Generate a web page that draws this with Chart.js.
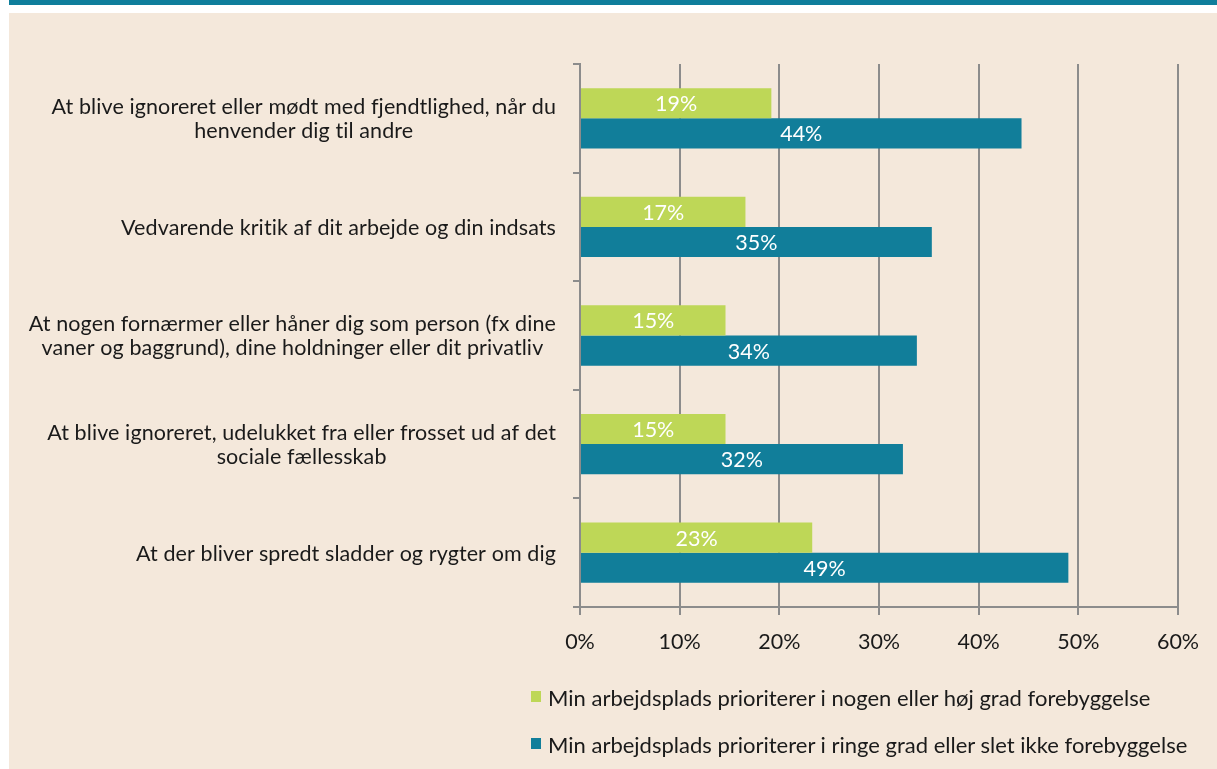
<!DOCTYPE html>
<html>
<head>
<meta charset="utf-8">
<script src="https://cdn.jsdelivr.net/npm/chart.js@4"></script>
<style>
    html, body { margin: 0; padding: 0; background: #ffffff; width: 1217px; height: 769px; overflow: hidden; }
    .topbar { position: absolute; left: 9px; top: 0; width: 1208px; height: 5px; background: #0f7e9b; }
    .panel { position: absolute; left: 9px; top: 13px; width: 1208px; height: 756px; background: #f4e8db; }
    #chart { position: absolute; left: 0; top: 0; }
    .legend { position: absolute; left: 522px; top: 661px; font-family: Lato, 'Open Sans', sans-serif; font-size: 22px; color: #1a1a1a; font-variant-ligatures: none; }
    .legend-item { height: 47px; display: flex; align-items: center; }
    .legend-box { width: 10px; height: 11px; margin-right: 7px; margin-top: -2px; }
</style>
</head>
<body>
<div class="topbar"></div>
<div class="panel">
    <canvas id="chart" width="1208" height="756"></canvas>
    <div class="legend" id="legend"></div>
</div>
<script>
// Data
const categories = [
    ['At blive ignoreret eller mødt med fjendtlighed, når du', 'henvender dig til andre'],
    ['Vedvarende kritik af dit arbejde og din indsats'],
    ['At nogen fornærmer eller håner dig som person (fx dine', 'vaner og baggrund), dine holdninger eller dit privatliv'],
    ['At blive ignoreret, udelukket fra eller frosset ud af det', 'sociale fællesskab'],
    ['At der bliver spredt sladder og rygter om dig']
];
const seriesNames = [
    'Min arbejdsplads prioriterer i nogen eller høj grad forebyggelse',
    'Min arbejdsplads prioriterer i ringe grad eller slet ikke forebyggelse'
];
const highPriority = [19.2, 16.6, 14.6, 14.6, 23.3];
const lowPriority = [44.3, 35.3, 33.8, 32.4, 49.0];
const xTicks = [0, 10, 20, 30, 40, 50, 60];

const colors = ['#bed757', '#117e9a'];
const fontFamily = "Lato, 'Open Sans', sans-serif";
const fontSize = 21.5;
const gridColor = '#8c8c8c';

// Category labels: block right-aligned to the axis, lines centred inside it
const categoryLabels = {
    id: 'categoryLabels',
    afterDraw(chart) {
        const ctx = chart.ctx;
        const yScale = chart.scales.y;
        const right = chart.chartArea.left - 24;
        const lineHeight = 24;
        ctx.save();
        ctx.font = fontSize + 'px ' + fontFamily;
        ctx.letterSpacing = '0.1px'; // stops the "ti" ligature
        ctx.fillStyle = '#1a1a1a';
        ctx.textAlign = 'center';
        ctx.textBaseline = 'middle';
        categories.forEach((lines, i) => {
            const y = yScale.getPixelForValue(i) + 1;
            const widest = Math.max(...lines.map(l => ctx.measureText(l).width));
            const cx = right - widest / 2;
            const top = y - (lines.length - 1) * lineHeight / 2;
            lines.forEach((line, j) => ctx.fillText(line, cx, top + j * lineHeight));
        });
        ctx.restore();
    }
};

// Value labels inside the bars
const barLabels = {
    id: 'barLabels',
    afterDatasetsDraw(chart) {
        const ctx = chart.ctx;
        ctx.save();
        ctx.font = fontSize + 'px ' + fontFamily;
        ctx.fillStyle = '#ffffff';
        ctx.textAlign = 'center';
        ctx.textBaseline = 'middle';
        chart.data.datasets.forEach((ds, di) => {
            chart.getDatasetMeta(di).data.forEach((bar, i) => {
                ctx.fillText(Math.round(ds.data[i]) + '%', (bar.base + bar.x) / 2, bar.y + 1);
            });
        });
        ctx.restore();
    }
};

const ctx = document.getElementById('chart').getContext('2d');
new Chart(ctx, {
    type: 'bar',
    data: {
        labels: categories.map(l => l.join(' ')),
        datasets: [
            { label: seriesNames[0], data: highPriority, backgroundColor: colors[0] },
            { label: seriesNames[1], data: lowPriority, backgroundColor: colors[1] }
        ]
    },
    options: {
        indexAxis: 'y',
        responsive: false,
        animation: false,
        barPercentage: 1,
        categoryPercentage: 0.555,
        layout: { padding: { top: 51, right: 39, bottom: 103, left: 0 } },
        plugins: {
            legend: { display: false },
            tooltip: { enabled: false }
        },
        scales: {
            x: {
                min: 0,
                max: 60,
                afterBuildTicks(scale) {
                    scale.ticks = xTicks.map(v => ({ value: v }));
                },
                ticks: {
                    callback: v => v + '%',
                    color: '#1a1a1a',
                    font: { family: fontFamily, size: fontSize },
                    padding: 14
                },
                grid: { color: gridColor, lineWidth: 2, tickLength: 8 },
                border: { display: true, color: gridColor, width: 2 },
                afterFit(scale) { scale.height = 59; }
            },
            y: {
                ticks: { display: false },
                grid: { drawOnChartArea: false, color: gridColor, lineWidth: 2, tickLength: 7, offset: true },
                border: { display: true, color: gridColor, width: 2 },
                afterFit(scale) { scale.width = 571; }
            }
        }
    },
    plugins: [categoryLabels, barLabels]
});

// Legend (stacked, left aligned)
const legend = document.getElementById('legend');
seriesNames.forEach((name, i) => {
    const item = document.createElement('div');
    item.className = 'legend-item';
    item.innerHTML = '<span class="legend-box" style="background:' + colors[i] + '"></span>' + name;
    legend.appendChild(item);
});
</script>
</body>
</html>
